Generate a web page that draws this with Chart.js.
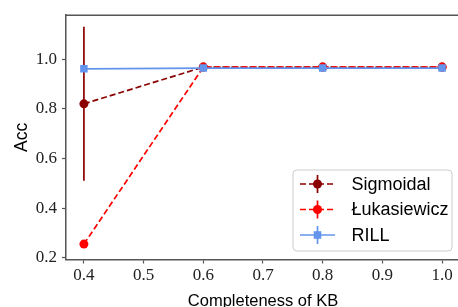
<!DOCTYPE html>
<html>
<head>
<meta charset="utf-8">
<script src="https://cdn.jsdelivr.net/npm/chart.js@4.4.0/dist/chart.umd.min.js"></script>
<style>
html,body{margin:0;padding:0;background:#fff;overflow:hidden;}
#wrap{width:480px;height:315px;}
</style>
</head>
<body>
<div id="wrap"><canvas id="c" width="480" height="315"></canvas></div>
<script>
// ---- data ----
const completeness = [0.4, 0.6, 0.8, 1.0];
const sigmoidal = [0.82, 0.968, 0.968, 0.968];
const sigmoidalErr = [0.31, 0.004, 0.004, 0.004];
const lukasiewicz = [0.255, 0.968, 0.968, 0.968];
const lukasiewiczErr = [0.01, 0.004, 0.004, 0.004];
const rill = [0.961, 0.964, 0.964, 0.964];
const rillErr = [0.004, 0.004, 0.004, 0.004];
const xTicks = [0.4, 0.5, 0.6, 0.7, 0.8, 0.9, 1.0];
const yTicks = [0.2, 0.4, 0.6, 0.8, 1.0];
const seriesNames = ['Sigmoidal', 'Łukasiewicz', 'RILL'];

const toPts = (ys) => completeness.map((x, i) => ({x: x, y: ys[i]}));

const SANS = '"Liberation Sans", Arial, sans-serif';
const SERIF = '"Liberation Serif", "Times New Roman", serif';
const SPINE = '#555555';

const errorBars = {
  id: 'errorBars',
  beforeDatasetsDraw(chart) {
    const ctx = chart.ctx;
    const xs = chart.scales.x, ys = chart.scales.y;
    chart.data.datasets.forEach((ds) => {
      if (!ds.errors) return;
      ctx.save();
      ctx.strokeStyle = ds.borderColor;
      ctx.lineWidth = 1.7;
      ds.data.forEach((p, i) => {
        const e = ds.errors[i];
        const px = xs.getPixelForValue(p.x);
        ctx.beginPath();
        ctx.moveTo(px, ys.getPixelForValue(p.y - e));
        ctx.lineTo(px, ys.getPixelForValue(p.y + e));
        ctx.stroke();
      });
      ctx.restore();
    });
  }
};

const frame = {
  id: 'frame',
  afterDatasetsDraw(chart) {
    const {ctx, chartArea: a} = chart;
    ctx.save();
    ctx.strokeStyle = SPINE;
    ctx.lineWidth = 1.5;
    ctx.beginPath();
    ctx.moveTo(a.left, a.top);
    ctx.lineTo(a.right, a.top);
    ctx.lineTo(a.right, a.bottom);
    ctx.stroke();
    ctx.restore();
  }
};

function roundRect(ctx, x, y, w, h, r) {
  ctx.beginPath();
  ctx.moveTo(x + r, y);
  ctx.lineTo(x + w - r, y);
  ctx.quadraticCurveTo(x + w, y, x + w, y + r);
  ctx.lineTo(x + w, y + h - r);
  ctx.quadraticCurveTo(x + w, y + h, x + w - r, y + h);
  ctx.lineTo(x + r, y + h);
  ctx.quadraticCurveTo(x, y + h, x, y + h - r);
  ctx.lineTo(x, y + r);
  ctx.quadraticCurveTo(x, y, x + r, y);
  ctx.closePath();
}

const legendBox = {
  id: 'legendBox',
  afterDraw(chart) {
    const ctx = chart.ctx;
    const bx = 293, by = 170, bw = 159, bh = 81;
    ctx.save();
    roundRect(ctx, bx, by, bw, bh, 4);
    ctx.fillStyle = 'rgba(255,255,255,0.8)';
    ctx.fill();
    ctx.strokeStyle = '#cccccc';
    ctx.lineWidth = 1;
    ctx.stroke();
    const rows = [184, 209.5, 235];
    chart.data.datasets.forEach((ds, i) => {
      const y = rows[i];
      ctx.strokeStyle = ds.borderColor;
      ctx.lineWidth = 1.7;
      ctx.setLineDash(ds.borderDash || []);
      ctx.beginPath();
      ctx.moveTo(300, y);
      ctx.lineTo(335, y);
      ctx.stroke();
      ctx.setLineDash([]);
      ctx.beginPath();
      ctx.moveTo(317.5, y - 9);
      ctx.lineTo(317.5, y + 9);
      ctx.stroke();
      ctx.fillStyle = ds.pointBackgroundColor;
      ctx.beginPath();
      if (ds.pointStyle === 'rect') {
        ctx.rect(317.5 - 3.8, y - 3.8, 7.6, 7.6);
      } else {
        ctx.arc(317.5, y, 4.5, 0, Math.PI * 2);
      }
      ctx.fill();
      ctx.fillStyle = '#000';
      ctx.font = '18px ' + SANS;
      ctx.textBaseline = 'middle';
      ctx.textAlign = 'left';
      ctx.fillText(ds.label, 351.5, y + 1);
    });
    ctx.restore();
  }
};

new Chart(document.getElementById('c'), {
  type: 'line',
  data: {
    datasets: [
      {
        label: seriesNames[0], data: toPts(sigmoidal), errors: sigmoidalErr,
        borderColor: '#8b0000', backgroundColor: '#8b0000', pointBackgroundColor: '#8b0000',
        borderWidth: 1.7, borderDash: [6, 3], pointRadius: 4.5, pointBorderWidth: 0,
        pointStyle: 'circle', tension: 0, order: 2
      },
      {
        label: seriesNames[1], data: toPts(lukasiewicz), errors: lukasiewiczErr,
        borderColor: '#ff0000', backgroundColor: '#ff0000', pointBackgroundColor: '#ff0000',
        borderWidth: 1.7, borderDash: [6, 3], pointRadius: 4.5, pointBorderWidth: 0,
        pointStyle: 'circle', tension: 0, order: 1
      },
      {
        label: seriesNames[2], data: toPts(rill), errors: rillErr,
        borderColor: '#6495ed', backgroundColor: '#6495ed', pointBackgroundColor: '#6495ed',
        borderWidth: 1.8, pointRadius: 5.3, pointBorderWidth: 0,
        pointStyle: 'rect', tension: 0, order: 0
      }
    ]
  },
  options: {
    responsive: false,
    animation: false,
    devicePixelRatio: 1,
    layout: {padding: {top: 4, right: 20, left: 0, bottom: 0}},
    plugins: {legend: {display: false}, tooltip: {enabled: false}},
    scales: {
      x: {
        type: 'linear', min: 0.37, max: 1.03,
        afterBuildTicks: (s) => { s.ticks = xTicks.map(v => ({value: v})); },
        afterFit: (s) => { s.height = 55.5; },
        grid: {drawOnChartArea: false, drawTicks: true, tickLength: 4, tickColor: SPINE, tickWidth: 1.2},
        border: {display: true, color: SPINE, width: 1.5},
        ticks: {color: '#222', padding: 2, font: {family: SERIF, size: 17}, callback: (v) => Number(v).toFixed(1), maxRotation: 0, autoSkip: false},
        title: {display: true, text: 'Completeness of KB', color: '#000', font: {family: SANS, size: 16.5}, padding: {top: 0, bottom: 4}}
      },
      y: {
        type: 'linear', min: 0.193, max: 1.177,
        afterBuildTicks: (s) => { s.ticks = yTicks.map(v => ({value: v})); },
        afterFit: (s) => { s.width = 66; },
        grid: {drawOnChartArea: false, drawTicks: true, tickLength: 4, tickColor: SPINE, tickWidth: 1.2},
        border: {display: true, color: SPINE, width: 1.5},
        ticks: {color: '#222', padding: 5, font: {family: SERIF, size: 17}, callback: (v) => Number(v).toFixed(1), autoSkip: false},
        title: {display: true, text: 'Acc', color: '#000', font: {family: SANS, size: 17.5}, padding: {top: 12, bottom: 0}}
      }
    }
  },
  plugins: [errorBars, frame, legendBox]
});
</script>
</body>
</html>
